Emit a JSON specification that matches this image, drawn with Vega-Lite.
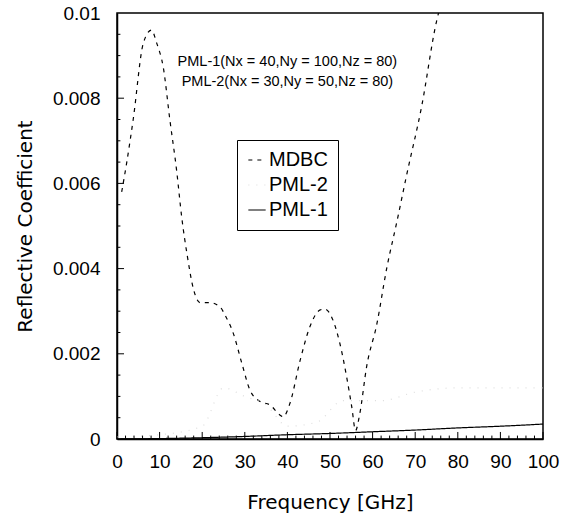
{
  "$schema": "https://vega.github.io/schema/vega-lite/v6.json",
  "width": 426,
  "height": 426,
  "autosize": {"type": "none"},
  "padding": {"left": 117, "top": 13, "right": 28, "bottom": 76},
  "background": "white",
  "config": {
    "view": {"stroke": "black", "strokeWidth": 1.5},
    "axis": {
      "domainColor": "black",
      "domainWidth": 1.5,
      "labelFont": "Liberation Sans",
      "labelFontSize": 19,
      "labelColor": "black",
      "labelFlush": false,
      "labelOverlap": false,
      "titleFont": "DejaVu Sans",
      "titleFontSize": 20,
      "titleFontWeight": "normal",
      "titleColor": "black"
    }
  },
  "datasets": {
    "curves": [
      {"series": "MDBC", "freq": 1.1, "coef": 0.0058},
      {"series": "MDBC", "freq": 2.3, "coef": 0.0065},
      {"series": "MDBC", "freq": 3.8, "coef": 0.0075},
      {"series": "MDBC", "freq": 6.2, "coef": 0.0093},
      {"series": "MDBC", "freq": 8.1, "coef": 0.0096},
      {"series": "MDBC", "freq": 9.3, "coef": 0.0093},
      {"series": "MDBC", "freq": 10.9, "coef": 0.0087},
      {"series": "MDBC", "freq": 12.4, "coef": 0.0075},
      {"series": "MDBC", "freq": 14.0, "coef": 0.0063},
      {"series": "MDBC", "freq": 15.2, "coef": 0.0052},
      {"series": "MDBC", "freq": 16.5, "coef": 0.0043},
      {"series": "MDBC", "freq": 18.0, "coef": 0.0035},
      {"series": "MDBC", "freq": 19.5, "coef": 0.0032},
      {"series": "MDBC", "freq": 21.8, "coef": 0.0032},
      {"series": "MDBC", "freq": 24.2, "coef": 0.0031},
      {"series": "MDBC", "freq": 25.4, "coef": 0.0029},
      {"series": "MDBC", "freq": 27.3, "coef": 0.00248},
      {"series": "MDBC", "freq": 29.3, "coef": 0.00178},
      {"series": "MDBC", "freq": 31.2, "coef": 0.00115},
      {"series": "MDBC", "freq": 33.6, "coef": 0.00088},
      {"series": "MDBC", "freq": 35.9, "coef": 0.0008},
      {"series": "MDBC", "freq": 38.3, "coef": 0.00056},
      {"series": "MDBC", "freq": 39.0, "coef": 0.00052},
      {"series": "MDBC", "freq": 40.6, "coef": 0.00084},
      {"series": "MDBC", "freq": 43.0, "coef": 0.00185},
      {"series": "MDBC", "freq": 45.3, "coef": 0.00264},
      {"series": "MDBC", "freq": 47.7, "coef": 0.00303},
      {"series": "MDBC", "freq": 48.8, "coef": 0.00305},
      {"series": "MDBC", "freq": 50.7, "coef": 0.00279},
      {"series": "MDBC", "freq": 52.3, "coef": 0.00225},
      {"series": "MDBC", "freq": 53.9, "coef": 0.00146},
      {"series": "MDBC", "freq": 55.1, "coef": 0.00076},
      {"series": "MDBC", "freq": 56.0, "coef": 0.0002},
      {"series": "MDBC", "freq": 57.0, "coef": 0.0006},
      {"series": "MDBC", "freq": 58.6, "coef": 0.0017},
      {"series": "MDBC", "freq": 61.0, "coef": 0.0027},
      {"series": "MDBC", "freq": 63.3, "coef": 0.004},
      {"series": "MDBC", "freq": 65.7, "coef": 0.0051},
      {"series": "MDBC", "freq": 68.0, "coef": 0.0062},
      {"series": "MDBC", "freq": 71.5, "coef": 0.0078},
      {"series": "MDBC", "freq": 75.0, "coef": 0.0098},
      {"series": "MDBC", "freq": 76.0, "coef": 0.0102},
      {"series": "PML-2", "freq": 0, "coef": 0.00005},
      {"series": "PML-2", "freq": 10, "coef": 0.0001},
      {"series": "PML-2", "freq": 20, "coef": 0.0003},
      {"series": "PML-2", "freq": 25, "coef": 0.0012},
      {"series": "PML-2", "freq": 30, "coef": 0.001},
      {"series": "PML-2", "freq": 35, "coef": 0.0008},
      {"series": "PML-2", "freq": 40, "coef": 0.0003},
      {"series": "PML-2", "freq": 47, "coef": 0.0004},
      {"series": "PML-2", "freq": 53, "coef": 0.0009},
      {"series": "PML-2", "freq": 62, "coef": 0.0009},
      {"series": "PML-2", "freq": 70, "coef": 0.0011},
      {"series": "PML-2", "freq": 80, "coef": 0.0012},
      {"series": "PML-2", "freq": 90, "coef": 0.0012},
      {"series": "PML-2", "freq": 100, "coef": 0.0012},
      {"series": "PML-1", "freq": 0, "coef": 0.0},
      {"series": "PML-1", "freq": 10, "coef": 0.00001},
      {"series": "PML-1", "freq": 20, "coef": 0.00003},
      {"series": "PML-1", "freq": 30, "coef": 0.00006},
      {"series": "PML-1", "freq": 40, "coef": 0.0001},
      {"series": "PML-1", "freq": 50, "coef": 0.00013},
      {"series": "PML-1", "freq": 60, "coef": 0.00017},
      {"series": "PML-1", "freq": 70, "coef": 0.00021},
      {"series": "PML-1", "freq": 80, "coef": 0.00026},
      {"series": "PML-1", "freq": 90, "coef": 0.0003},
      {"series": "PML-1", "freq": 100, "coef": 0.00035}
    ],
    "notes": [
      {"freq": 40, "coef": 0.00885, "label": "PML-1(Nx = 40,Ny = 100,Nz = 80)"},
      {"freq": 40, "coef": 0.00838, "label": "PML-2(Nx = 30,Ny = 50,Nz = 80)"}
    ],
    "xmajor": [{"freq": 0}, {"freq": 10}, {"freq": 20}, {"freq": 30}, {"freq": 40}, {"freq": 50}, {"freq": 60}, {"freq": 70}, {"freq": 80}, {"freq": 90}, {"freq": 100}],
    "xminor": [{"freq": 2}, {"freq": 4}, {"freq": 6}, {"freq": 8}, {"freq": 12}, {"freq": 14}, {"freq": 16}, {"freq": 18}, {"freq": 22}, {"freq": 24}, {"freq": 26}, {"freq": 28}, {"freq": 32}, {"freq": 34}, {"freq": 36}, {"freq": 38}, {"freq": 42}, {"freq": 44}, {"freq": 46}, {"freq": 48}, {"freq": 52}, {"freq": 54}, {"freq": 56}, {"freq": 58}, {"freq": 62}, {"freq": 64}, {"freq": 66}, {"freq": 68}, {"freq": 72}, {"freq": 74}, {"freq": 76}, {"freq": 78}, {"freq": 82}, {"freq": 84}, {"freq": 86}, {"freq": 88}, {"freq": 92}, {"freq": 94}, {"freq": 96}, {"freq": 98}],
    "ymajor": [{"coef": 0.002}, {"coef": 0.004}, {"coef": 0.006}, {"coef": 0.008}],
    "yminor": [{"coef": 0.0005}, {"coef": 0.001}, {"coef": 0.0015}, {"coef": 0.0025}, {"coef": 0.003}, {"coef": 0.0035}, {"coef": 0.0045}, {"coef": 0.005}, {"coef": 0.0055}, {"coef": 0.0065}, {"coef": 0.007}, {"coef": 0.0075}, {"coef": 0.0085}, {"coef": 0.009}, {"coef": 0.0095}]
  },
  "layer": [
    {
      "data": {"name": "curves"},
      "mark": {"type": "line", "clip": true, "interpolate": "monotone", "strokeWidth": 1.2},
      "encoding": {
        "x": {
          "field": "freq",
          "type": "quantitative",
          "scale": {"domain": [0, 100], "nice": false, "zero": false},
          "title": "Frequency [GHz]",
          "axis": {
            "values": [0,10,20,30,40,50,60,70,80,90,100],
            "labelOverlap": false,
            "ticks": false,
            "grid": false,
            "labelPadding": 13,
            "titleX": 213,
            "titleY": 63,
            "titleAlign": "center",
            "titleBaseline": "middle"
          }
        },
        "y": {
          "field": "coef",
          "type": "quantitative",
          "scale": {"domain": [0, 0.01], "nice": false},
          "title": "Reflective Coefficient",
          "axis": {
            "values": [0,0.002,0.004,0.006,0.008,0.01],
            "format": "~g",
            "labelOverlap": false,
            "ticks": false,
            "grid": false,
            "labelPadding": 17,
            "titleX": -92,
            "titleY": 213,
            "titleAngle": -90,
            "titleAlign": "center",
            "titleBaseline": "middle"
          }
        },
        "color": {
          "field": "series",
          "type": "nominal",
          "scale": {"domain": ["MDBC", "PML-2", "PML-1"], "range": ["black", "#dddddd", "black"]},
          "legend": {
            "orient": "none", "legendX": 120, "legendY": 127, "title": null,
            "strokeColor": "black", "fillColor": "white", "padding": 10,
            "labelFont": "Liberation Sans", "labelFontSize": 20, "labelColor": "black",
            "symbolType": "stroke", "symbolSize": 300, "symbolStrokeWidth": 1.2,
            "rowPadding": 5, "labelOffset": 2, "labelLimit": 200
          }
        },
        "strokeDash": {
          "field": "series",
          "type": "nominal",
          "scale": {"domain": ["MDBC", "PML-2", "PML-1"], "range": [[4, 5], [1, 7], [1, 0]]},
          "legend": {
            "orient": "none", "legendX": 120, "legendY": 127, "title": null,
            "strokeColor": "black", "fillColor": "white", "padding": 10,
            "labelFont": "Liberation Sans", "labelFontSize": 20, "labelColor": "black",
            "symbolType": "stroke", "symbolSize": 300, "symbolStrokeWidth": 1.2,
            "rowPadding": 5, "labelOffset": 2, "labelLimit": 200
          }
        }
      }
    },
    {
      "data": {"name": "xmajor"},
      "mark": {"type": "rule", "color": "black", "strokeWidth": 1},
      "encoding": {
        "x": {"field": "freq", "type": "quantitative"},
        "y": {"datum": 0},
        "y2": {"datum": 0.000165}
      }
    },
    {
      "data": {"name": "xminor"},
      "mark": {"type": "rule", "color": "black", "strokeWidth": 1},
      "encoding": {
        "x": {"field": "freq", "type": "quantitative"},
        "y": {"datum": 0},
        "y2": {"datum": 0.00008}
      }
    },
    {
      "data": {"name": "ymajor"},
      "mark": {"type": "rule", "color": "black", "strokeWidth": 1},
      "encoding": {
        "y": {"field": "coef", "type": "quantitative"},
        "x": {"datum": 0},
        "x2": {"datum": 1.65}
      }
    },
    {
      "data": {"name": "yminor"},
      "mark": {"type": "rule", "color": "black", "strokeWidth": 1},
      "encoding": {
        "y": {"field": "coef", "type": "quantitative"},
        "x": {"datum": 0},
        "x2": {"datum": 0.8}
      }
    },
    {
      "data": {"name": "notes"},
      "mark": {"type": "text", "font": "Liberation Sans", "fontSize": 14.5, "color": "black", "align": "center", "baseline": "middle"},
      "encoding": {
        "x": {"field": "freq", "type": "quantitative"},
        "y": {"field": "coef", "type": "quantitative"},
        "text": {"field": "label"}
      }
    }
  ]
}
